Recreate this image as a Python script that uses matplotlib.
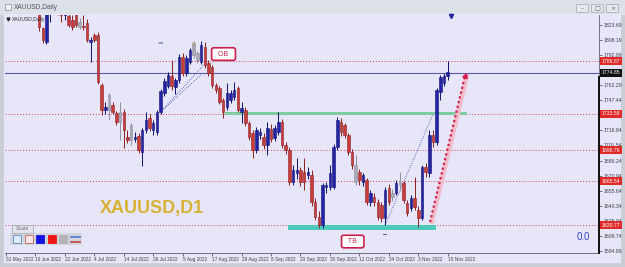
import numpy as np
import matplotlib
matplotlib.use('Agg')
import matplotlib.pyplot as plt
from matplotlib.patches import Rectangle, FancyBboxPatch
from matplotlib import transforms

# daily XAUUSD candles, bar 9 (13 Jun) .. bar 120 (15 Nov)
first_bar = 9
opens = [1850, 1820.4, 1806.2, 1836, 1845, 1840, 1838, 1834, 1832.5, 1828.5,
         1834, 1821.4, 1822.4, 1825.4, 1806.2, 1813.3, 1813.3, 1762.7, 1737.4, 1737.4,
         1742.4, 1734.3, 1725.2, 1735.4, 1710, 1707, 1708, 1711, 1695, 1717,
         1729, 1717, 1715, 1735, 1755, 1762, 1772, 1761, 1767.7, 1791,
         1775, 1786, 1793, 1795, 1786, 1801, 1785, 1781, 1763, 1760,
         1747.5, 1740, 1747.5, 1750.5, 1759.6, 1735.4, 1737.4, 1724.2, 1714, 1697,
         1712, 1710, 1702, 1718, 1709, 1715, 1725, 1702, 1697, 1664.5,
         1673.6, 1676.7, 1674.6, 1671.6, 1671.6, 1644.3, 1629, 1621, 1659.5, 1659.5,
         1659.5, 1700, 1725.2, 1722, 1712, 1695, 1681.7, 1674.6, 1664.5, 1666.5,
         1644.3, 1649.3, 1644.3, 1641, 1628, 1658.4, 1653.4, 1653.4, 1661.5, 1663.5,
         1643, 1638, 1648, 1636, 1628, 1679.7, 1673.6, 1712, 1705, 1755.6,
         1764.7, 1771.8]
highs = [1862, 1821.4, 1842, 1857, 1852, 1846, 1845, 1844, 1838, 1833,
         1840, 1830, 1833.5, 1829, 1811.3, 1815, 1816, 1765, 1745, 1754.6,
         1745, 1736, 1745.5, 1738, 1717, 1724.2, 1715, 1714, 1719, 1735,
         1733, 1727, 1737, 1759, 1770, 1776, 1788, 1770, 1794, 1795,
         1793, 1800, 1807.5, 1797, 1807.5, 1806, 1788, 1783, 1765, 1762,
         1750, 1764.7, 1758, 1765.7, 1762, 1745, 1740, 1726, 1717, 1720,
         1719, 1714, 1725, 1723, 1722, 1735, 1728, 1705, 1700, 1682,
         1689, 1680, 1688.8, 1680, 1677, 1648, 1635, 1664, 1665, 1681.7,
         1703, 1730.3, 1729, 1724, 1714, 1698, 1691.8, 1678, 1674, 1669,
         1656, 1653, 1647, 1644, 1659, 1663, 1657, 1667, 1675, 1666,
         1646, 1651, 1669.6, 1640, 1682, 1684, 1717, 1717, 1760, 1773,
         1775, 1786.9]
lows = [1817, 1805.2, 1804, 1826.4, 1836, 1834, 1826.4, 1828, 1821, 1818.3,
        1821, 1819, 1818.3, 1806, 1786, 1806, 1763.7, 1732.3, 1733, 1727.3,
        1733, 1722, 1707, 1698.9, 1704, 1702, 1705, 1694, 1681, 1714,
        1716, 1712, 1712, 1733, 1752, 1760, 1758, 1754, 1765, 1772,
        1772, 1784, 1790, 1785, 1784, 1780, 1772, 1760, 1755, 1743,
        1729, 1737, 1744, 1748, 1735, 1724, 1721, 1707, 1688.8, 1694,
        1708, 1698, 1692, 1705, 1706, 1712, 1699, 1693, 1661, 1662,
        1668, 1660, 1656.4, 1668, 1640, 1626, 1618, 1618, 1653, 1656,
        1657, 1697, 1711, 1709, 1692, 1678, 1661, 1662, 1660, 1641,
        1640, 1640, 1626, 1624, 1621, 1641, 1645, 1651, 1655, 1643,
        1630, 1635, 1636, 1619, 1626, 1670, 1670, 1700, 1702, 1747.5,
        1762, 1768]
closes = [1821, 1808.2, 1836, 1845, 1840, 1838, 1834, 1838, 1823.4, 1821.4,
          1823.4, 1826.4, 1821.0, 1808.2, 1808.2, 1808.2, 1765.7, 1737.4, 1740.4, 1752.6,
          1735.4, 1725.2, 1735.4, 1717.1, 1707, 1722.2, 1710, 1697, 1717, 1727,
          1719, 1724, 1735, 1757, 1767, 1773, 1762, 1768, 1791, 1775,
          1790, 1798, 1805, 1788, 1803, 1783, 1775, 1763, 1758, 1745.5,
          1735, 1754.6, 1754.6, 1757.6, 1737.4, 1739.4, 1724.2, 1710, 1697, 1717,
          1715, 1702, 1719, 1708, 1719, 1725, 1702, 1697, 1664.5, 1676.7,
          1676.7, 1664.5, 1664.5, 1674.6, 1644.3, 1629, 1621, 1661.5, 1661.5, 1673.6,
          1700, 1727.3, 1715, 1712, 1695, 1681.7, 1664.5, 1666.5, 1671.6, 1644.3,
          1653.4, 1644.3, 1629, 1628, 1656.4, 1644.3, 1649.3, 1663.5, 1664.5, 1646.3,
          1633, 1648, 1639, 1628, 1679.7, 1674.6, 1712, 1705, 1757.6, 1770.8,
          1771.8, 1775.8]
gray_bars = [20, 28, 31, 34, 51, 52, 95, 105, 107]

date_bars = [0, 8, 16, 24, 32, 40, 48, 56, 64, 72, 80, 88, 96, 104, 112, 120]
date_labels = ['31 May 2022', '10 Jun 2022', '22 Jun 2022', '4 Jul 2022', '14 Jul 2022',
               '26 Jul 2022', '5 Aug 2022', '17 Aug 2022', '29 Aug 2022', '8 Sep 2022',
               '20 Sep 2022', '30 Sep 2022', '12 Oct 2022', '24 Oct 2022', '3 Nov 2022',
               '15 Nov 2022']
price_ticks = [1594.89, 1609.74, 1625.04, 1640.34, 1655.64, 1670.94, 1686.24, 1701.54,
               1716.84, 1747.44, 1762.29, 1792.89, 1808.19, 1823.69]
red_levels = [1786.87, 1733.58, 1696.76, 1665.54, 1620.77]
last_price = 1774.85

# zones and drawn objects (bar index, price)
ob_zone = [59.5, 125.3, 1732.3, 1735.3]
tb_zone = [76.6, 116.8, 1616.0, 1621.0]
trend_a = [(42, 1735.4), (54, 1784)]
trend_b = [(42, 1735.4), (53, 1773)]
trend_c = [(103, 1621), (116, 1733)]
arrow = [(115.2, 1624), (124.7, 1771.8)]

W, H = 625, 267
LAV = '#E6E6F8'
SMALL = 'Liberation Sans'
fig = plt.figure(figsize=(W / 100, H / 100), dpi=100)

def box(x0, y0, x1, y1):
    return [x0 / W, 1 - y1 / H, (x1 - x0) / W, (y1 - y0) / H]

# window frame behind everything
bg = fig.add_axes([0, 0, 1, 1])
bg.set_xlim(0, W); bg.set_ylim(H, 0); bg.axis('off')
bg.add_patch(Rectangle((0, 0), W, H, color='#C8CDD6'))
bg.add_patch(Rectangle((0, 0), W, 14, color='#DCE0E7'))
bg.add_patch(Rectangle((4, 14), 616, 248, color=LAV))

ax = fig.add_axes(box(5, 15, 599, 253))
ax.set_facecolor(LAV)
ax.set_xlim(-0.27, 161.1)
ax.set_ylim(1592.7, 1833.5)

# horizontal levels
for lv in red_levels:
    ax.axhline(lv, color='#D04058', lw=0.7, ls=(0, (1, 2)), zorder=1)
ax.axhline(last_price, color='#5A5AA8', lw=0.8, zorder=1)

ax.add_patch(Rectangle((ob_zone[0], ob_zone[2]), ob_zone[1] - ob_zone[0], ob_zone[3] - ob_zone[2],
                       color='#7FCBA2', zorder=1.5, lw=0))
ax.add_patch(Rectangle((tb_zone[0], tb_zone[2]), tb_zone[1] - tb_zone[0], tb_zone[3] - tb_zone[2],
                       color='#4FC8BC', zorder=1.5, lw=0))

for ln in [trend_a, trend_b, trend_c]:
    ax.plot([ln[0][0], ln[1][0]], [ln[0][1], ln[1][1]], color='#4040B0', lw=0.6,
            ls=(0, (1, 1.5)), zorder=2)

# candles
idx = np.arange(first_bar, first_bar + len(opens))
for i, oo, hh, ll, cc in zip(idx, opens, highs, lows, closes):
    if i in gray_bars:
        fc, ec = '#A8A8B8', '#9090A0'
    elif cc >= oo:
        fc, ec = '#2424A8', '#101070'
    else:
        fc, ec = '#C83C3C', '#8A2020'
    ax.vlines(i, ll, hh, color=ec, lw=0.7, zorder=3)
    bot = min(oo, cc)
    hgt = max(abs(cc - oo), 1.2)
    ax.add_patch(Rectangle((i - 0.34, bot), 0.68, hgt, facecolor=fc, edgecolor=ec, lw=0.4, zorder=4))

# red arrow with a pale shadow
(ax0, ay0), (ax1, ay1) = arrow
ax.plot([ax0 + 0.5, ax1 + 0.5], [ay0, ay1], color='#F2BCCB', lw=3.2, zorder=5, solid_capstyle='round')
ax.plot([ax0, ax1], [ay0, ay1], color='#D3204C', lw=1.6, ls=(0, (1, 1.2)), zorder=6)
ax.plot(ax1, ay1, marker=(3, 0, -20), ms=4, color='#D3204C', zorder=6)

# OB / TB labels
for txt, xx, yy in [('OB', 59.1, 1794.0), ('TB', 94.2, 1604.3)]:
    ax.text(xx, yy, '  ' + txt + '  ', fontsize=5, family=SMALL, color='#C8204A', ha='center',
            va='center', zorder=8,
            bbox=dict(boxstyle='round,pad=0.4,rounding_size=0.3', fc='white', ec='#C8204A', lw=1.2))

# small chart markers
ax.text(41.8, 1805.2, '=', fontsize=5, color='#6060A0', ha='center', va='center', zorder=6)
ax.text(50.8, 1804, '3', fontsize=4, color='#C8A050', ha='center', va='center', zorder=6)
ax.plot(121, 1832.3, marker='v', ms=3, color='#2020A0', zorder=6, clip_on=False)
ax.plot([102.4, 103.2], [1612, 1612], color='#404060', lw=0.6, zorder=6)

# axes look
for s in ['top', 'left']:
    ax.spines[s].set_visible(False)
for s in ['bottom', 'right']:
    ax.spines[s].set_color('#606068')
    ax.spines[s].set_linewidth(0.6)
ax.yaxis.tick_right()
ax.set_yticks(price_ticks)
ax.set_yticklabels(['%.2f' % p for p in price_ticks], family=SMALL)
ax.set_xticks(date_bars)
ax.set_xticklabels(date_labels, family=SMALL)
for lbl in ax.get_xticklabels():
    lbl.set_ha('left')
ax.tick_params(axis='x', labelsize=3.4, length=2, width=0.5, colors='#404048', pad=0.8)
ax.tick_params(axis='y', labelsize=3.7, length=2, width=0.5, colors='#404048', pad=1.2)

tr = transforms.blended_transform_factory(ax.transAxes, ax.transData)
for lv in red_levels:
    ax.text(1.004, lv, '%.2f' % lv, transform=tr, fontsize=3.7, family=SMALL, color='white', va='center',
            ha='left', clip_on=False, zorder=9, bbox=dict(fc='#E02A2A', ec='none', pad=1.2))
ax.text(1.004, last_price, '%.2f' % last_price, transform=tr, fontsize=3.7, family=SMALL, color='white',
        va='center', ha='left', clip_on=False, zorder=9, bbox=dict(fc='#101010', ec='none', pad=1.2))
ax.plot([1.0, 1.0], [1592.7, 1771], transform=tr, color='#101010', lw=1.4, clip_on=False, zorder=7)

# overlay: title bar, buttons, labels, scale panel
ov = fig.add_axes([0, 0, 1, 1], zorder=10)
ov.set_xlim(0, W); ov.set_ylim(H, 0); ov.axis('off')
ov.add_patch(Rectangle((5, 4), 6, 6, fc='#F0F2F6', ec='#8890A0', lw=0.5))
ov.text(14, 7.5, 'XAUUSD,Daily', fontsize=4.8, family=SMALL, color='#505560', va='center')
for bx, sym in [(577, '–'), (592, '□'), (607, '×')]:
    ov.add_patch(FancyBboxPatch((bx, 5), 11, 7, boxstyle='round,pad=0.5', fc='#E6E8EE', ec='#A0A6B2', lw=0.5))
    ov.text(bx + 5.5, 8.7, sym, fontsize=4.5, color='#606878', ha='center', va='center')
ov.plot(8, 19, marker='v', ms=2, color='#202020')
ov.text(12, 19.3, 'XAUUSD,Daily', fontsize=3.6, family=SMALL, color='#303030', va='center')

ov.text(151.5, 208.5, 'XAUUSD,D1', fontsize=13, fontweight='bold', family=SMALL,
        color='#D8B237', ha='center', va='center')
ov.text(583.5, 236.5, '0.0', fontsize=7, family=SMALL, color='#3848C8', ha='center', va='center')

ov.add_patch(Rectangle((10, 233), 72, 12, fc='#D2D5DC', ec='none'))
ov.add_patch(Rectangle((12, 224.5), 21, 8.5, fc='#E2E4EA', ec='#A0A4AE', lw=0.5))
ov.text(22.5, 229, 'Scale', fontsize=3.8, family=SMALL, color='#707480', ha='center', va='center')
for x0, fc, ec in [(13, '#DCEAF8', '#5A8CC0'), (25, '#F8E6E6', '#C06060'), (36, '#1414E0', '#1414E0'),
                   (48, '#F01414', '#F01414'), (59, '#B4B4B8', '#B4B4B8')]:
    ov.add_patch(Rectangle((x0, 235), 8, 8, fc=fc, ec=ec, lw=0.6))
ov.plot([71, 80], [236.5, 236.5], color='#4A7AD0', lw=1.2)
ov.plot([71, 80], [241.5, 241.5], color='#C04040', lw=1.2)

fig.savefig('out.png', dpi=100)
